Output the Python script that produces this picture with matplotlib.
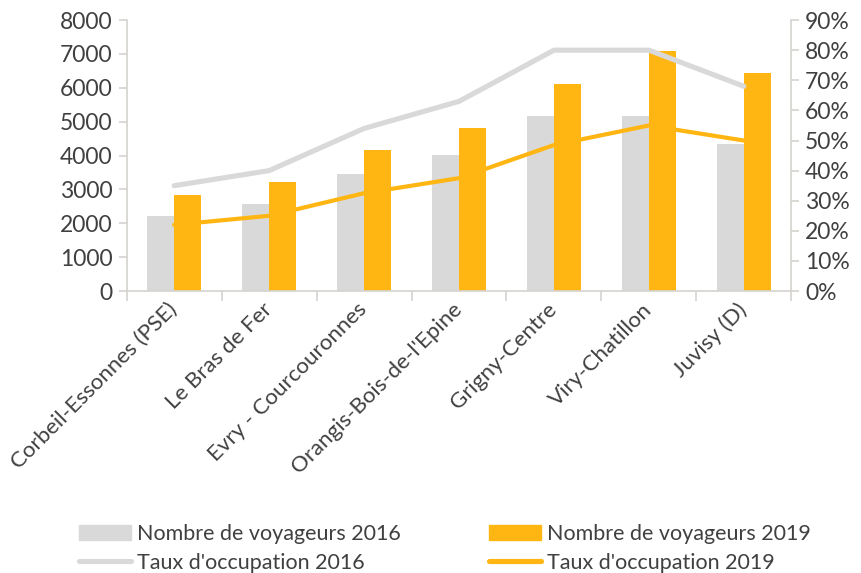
import numpy as np
import matplotlib
matplotlib.use('Agg')
import matplotlib.pyplot as plt
from matplotlib.ticker import PercentFormatter, FixedLocator
from matplotlib.patches import Patch
from matplotlib.lines import Line2D

plt.rcParams['font.family'] = ['Lato', 'DejaVu Sans']

# --- Datos -------------------------------------------------------------------
gares = ['Corbeil-Essonnes (PSE)', 'Le Bras de Fer', 'Evry - Courcouronnes',
         "Orangis-Bois-de-l'Epine", 'Grigny-Centre', 'Viry-Chatillon', 'Juvisy (D)']
voy_2016 = [2210, 2560, 3450, 4030, 5160, 5160, 4350]
voy_2019 = [2850, 3210, 4150, 4810, 6120, 7080, 6440]
taux_2016 = [35, 40, 54, 63, 80, 80, 68]
taux_2019 = [22, 25, 32.5, 37.5, 48.5, 55, 50]

gris = '#D9D9D9'
orange = '#FFB612'
txt = '#404040'
eje = '#D5D3D0'

x = np.arange(len(gares))
w = 0.285

fig = plt.figure(figsize=(8.62, 5.73), dpi=100)
ax = fig.add_axes([0.147, 0.492, 0.771, 0.473])
ax.bar(x - w/2, voy_2016, width=w, color=gris, zorder=1)
ax.bar(x + w/2, voy_2019, width=w, color=orange, zorder=1)
ax.set_ylim(0, 8000)
ax.set_xlim(-0.5, len(gares) - 0.5)
ax.set_yticks(np.arange(0, 8001, 1000))

ax2 = ax.twinx()
ax2.plot(x, taux_2016, color=gris, lw=3.7, solid_capstyle='round', zorder=3)
ax2.plot(x, taux_2019, color=orange, lw=3.0, solid_capstyle='round', zorder=3)
ax2.set_ylim(0, 90)
ax2.set_yticks(np.arange(0, 91, 10))
ax2.yaxis.set_major_formatter(PercentFormatter(decimals=0))

# ticks del eje x entre categorias, etiquetas en el centro
ax.xaxis.set_major_locator(FixedLocator(np.arange(-0.5, len(gares), 1)))
ax.set_xticklabels([])
ax.xaxis.set_minor_locator(FixedLocator(x))
ax.set_xticklabels(gares, minor=True, rotation=45, ha='right', va='center',
                   rotation_mode='anchor')
ax.tick_params(axis='x', which='minor', length=0, pad=11, labelsize=16, labelcolor=txt)
ax.tick_params(axis='x', which='major', length=7, color=eje, width=1.2)

for a in (ax, ax2):
    for s in a.spines.values():
        s.set_visible(False)
ax.spines['left'].set_visible(True)
ax.spines['bottom'].set_visible(True)
ax2.spines['right'].set_visible(True)
for s in (ax.spines['left'], ax.spines['bottom'], ax2.spines['right']):
    s.set_color(eje)
    s.set_linewidth(1.2)

ax.tick_params(axis='y', length=6, color=eje, width=1.2, labelsize=16.5, labelcolor=txt, pad=4)
ax2.tick_params(axis='y', length=6, color=eje, width=1.2, labelsize=16.5, labelcolor=txt, pad=4)

handles = [Patch(color=gris), Patch(color=orange),
           Line2D([], [], color=gris, lw=3.7, solid_capstyle='round'),
           Line2D([], [], color=orange, lw=3.7, solid_capstyle='round')]
labels = ['Nombre de voyageurs 2016', 'Nombre de voyageurs 2019',
          "Taux d'occupation 2016", "Taux d'occupation 2019"]
order = [0, 2, 1, 3]
fig.legend([handles[i] for i in order], [labels[i] for i in order], ncol=2,
           loc='lower left', bbox_to_anchor=(0.074, -0.026), frameon=False,
           fontsize=15.5, labelcolor=txt, handlelength=2.4, handletextpad=0.3,
           columnspacing=4.1, labelspacing=0.4, borderpad=0.2)

fig.savefig('out.png', dpi=100)
